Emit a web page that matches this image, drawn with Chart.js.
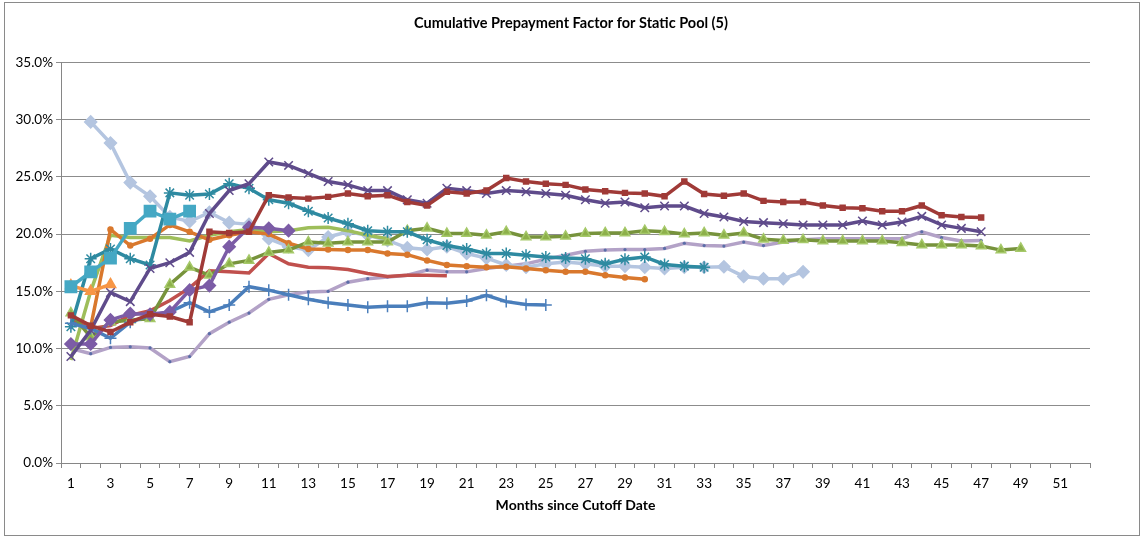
<!DOCTYPE html>
<html>
<head>
<meta charset="utf-8">
<script src="https://cdn.jsdelivr.net/npm/chart.js@4.4.1/dist/chart.umd.min.js"></script>
<style>
  html, body { margin: 0; padding: 0; background: #fff; }
  #wrap { position: relative; width: 1142px; height: 538px; }
  #frame { position: absolute; left: 4px; top: 2px; width: 1134px; height: 532px; border: 1px solid #8a8a8a; pointer-events: none; }
</style>
</head>
<body>
<div id="wrap">
  <canvas id="chart" width="1142" height="538"></canvas>
  <div id="frame"></div>
</div>
<script>
// months 1..52 on the category axis (odd ones labelled)
const months = Array.from({ length: 52 }, (_, i) => String(i + 1));
const yTicks = [0, 5, 10, 15, 20, 25, 30, 35];

// cumulative prepayment factor, % (one array per pool, month 1 first)
const bluePlus = [12.2, 11.75, 10.9, 12.3, 12.9, 13.2, 14.0, 13.2, 13.8, 15.4, 15.1, 14.7, 14.3, 14.0, 13.8,
  13.6, 13.7, 13.7, 14.0, 13.95, 14.15, 14.65, 14.1, 13.85, 13.8];
const darkRedSq = [12.9, 12.0, 11.45, 12.3, 13.0, 12.8, 12.3, 20.2, 20.1, 20.2, 23.4, 23.2, 23.1, 23.25, 23.55,
  23.3, 23.4, 22.8, 22.5, 23.7, 23.55, 23.8, 24.9, 24.6, 24.4, 24.3, 23.9, 23.75, 23.6, 23.55,
  23.3, 24.6, 23.5, 23.35, 23.55, 22.9, 22.8, 22.8, 22.5, 22.3, 22.25, 22.0, 22.0, 22.5, 21.65,
  21.5, 21.45];
const redLine = [12.5, 11.75, 12.0, 12.9, 13.3, 14.2, 15.3, 16.8, 16.7, 16.6, 18.3, 17.4, 17.1, 17.05, 16.9,
  16.55, 16.3, 16.4, 16.4, 16.35];
const greenTri = [13.1, 11.0, 12.3, 12.5, 12.6, 15.6, 17.1, 16.4, 17.4, 17.7, 18.4, 18.6, 19.3, 19.2, 19.3,
  19.3, 19.3, 20.3, 20.5, 20.05, 20.05, 19.9, 20.2, 19.75, 19.75, 19.8, 20.05, 20.1, 20.1, 20.3,
  20.2, 20.0, 20.1, 19.9, 20.1, 19.55, 19.45, 19.5, 19.4, 19.4, 19.4, 19.4, 19.25, 19.05, 19.05,
  19.05, 18.95, 18.6, 18.75];
const lightGreen = [9.0, 15.0, 19.9, 19.7, 19.7, 19.7, 19.4, 19.9, 20.2, 20.4, 20.2, 20.3, 20.55, 20.6, 20.3,
  19.9, 19.6];
const purpleX = [9.3, 11.6, 14.9, 14.1, 17.0, 17.5, 18.4, 21.8, 23.8, 24.4, 26.3, 26.0, 25.3, 24.6, 24.3,
  23.8, 23.8, 23.0, 22.7, 24.0, 23.8, 23.55, 23.8, 23.7, 23.55, 23.4, 23.0, 22.7, 22.8, 22.3,
  22.45, 22.45, 21.8, 21.5, 21.1, 21.0, 20.9, 20.8, 20.8, 20.8, 21.15, 20.8, 21.05, 21.55, 20.8,
  20.5, 20.2];
const purpleDia = [10.4, 10.4, 12.5, 13.05, 13.0, 13.2, 15.1, 15.5, 18.9, 20.6, 20.5, 20.3];
const lightPurple = [10.0, 9.55, 10.1, 10.15, 10.05, 8.85, 9.3, 11.3, 12.3, 13.1, 14.3, 14.7, 14.95, 15.0, 15.8,
  16.1, 16.25, 16.4, 16.85, 16.7, 16.7, 17.0, 17.2, 17.4, 17.8, 18.15, 18.5, 18.6, 18.65, 18.65,
  18.75, 19.2, 19.0, 18.95, 19.3, 19.0, 19.3, 19.5, 19.6, 19.6, 19.6, 19.6, 19.6, 20.2, 19.7,
  19.4, 19.45];
const tealStar = [11.9, 17.85, 18.7, 17.85, 17.3, 23.6, 23.4, 23.5, 24.4, 24.0, 23.0, 22.7, 22.0, 21.4, 20.9,
  20.3, 20.2, 20.2, 19.5, 19.0, 18.7, 18.3, 18.3, 18.15, 18.0, 17.9, 17.85, 17.4, 17.8, 18.0,
  17.35, 17.2, 17.1];
const tealSq = [15.4, 16.7, 17.9, 20.5, 22.0, 21.3, 22.0];
const orangeCirc = [null, 11.9, 20.4, 19.0, 19.6, 20.8, 20.2, 19.5, 19.9, 20.2, 20.0, 19.2, 18.7, 18.65, 18.6,
  18.6, 18.3, 18.2, 17.7, 17.3, 17.2, 17.1, 17.15, 17.0, 16.85, 16.7, 16.7, 16.4, 16.2, 16.05];
const orangeTri = [15.5, 15.0, 15.6];
const lightBlueDia = [null, 29.8, 27.95, 24.5, 23.3, 21.5, 21.1, 21.9, 21.0, 20.85, 19.6, 18.9, 18.6, 19.75, 20.2,
  19.9, 19.45, 18.8, 18.65, 18.9, 18.3, 17.9, 17.3, 17.1, 17.4, 17.55, 17.4, 17.2, 17.2, 17.1,
  17.0, 17.1, 17.1, 17.15, 16.3, 16.1, 16.1, 16.7];

const FONT = 'Lato, "Liberation Sans", sans-serif';

function series(label, data, color, style, radius, extra) {
  return Object.assign({
    label, data,
    borderColor: color,
    backgroundColor: color,
    pointBackgroundColor: color,
    pointBorderColor: color,
    borderWidth: 3.5,
    pointStyle: style,
    pointRadius: radius,
    pointBorderWidth: 1.5,
    tension: 0,
    spanGaps: false,
    fill: false
  }, extra || {});
}

// first dataset is drawn on top
const datasets = [
  series('Pool A', darkRedSq, '#A03A37', 'rect', 3.5),
  series('Pool B', purpleX, '#5F4B8B', 'crossRot', 6),
  series('Pool C', tealSq, '#45A8C4', 'rect', 8),
  series('Pool D', orangeTri, '#F79646', 'triangle', 6),
  series('Pool E', purpleDia, '#7C5CA6', 'rectRot', 6),
  series('Pool F', bluePlus, '#4A7EBB', 'cross', 6),
  series('Pool G', tealStar, '#2E8AA1', 'star', 6),
  series('Pool H', greenTri, '#77933C', 'triangle', 5.5, { pointBackgroundColor: '#8DB04A', pointBorderColor: '#A6C96A' }),
  series('Pool I', orangeCirc, '#D9782D', 'circle', 2.5),
  series('Pool J', redLine, '#C0504D', 'circle', 0),
  series('Pool K', lightGreen, '#9EBE5A', 'circle', 0),
  series('Pool L', lightBlueDia, '#B4C5E0', 'rectRot', 6),
  series('Pool M', lightPurple, '#B3A2C7', 'circle', 1.6, { pointBackgroundColor: '#5A6EA8', pointBorderColor: '#5A6EA8', pointBorderWidth: 0 })
];

new Chart(document.getElementById('chart'), {
  type: 'line',
  data: { labels: months, datasets },
  options: {
    responsive: false,
    animation: false,
    layout: { padding: { left: 0, right: 0, top: 0, bottom: 0 } },
    plugins: {
      legend: { display: false },
      tooltip: { enabled: false },
      title: {
        display: true,
        text: 'Cumulative Prepayment Factor for Static Pool (5)',
        color: '#000',
        font: { family: FONT, size: 14.5, weight: 'bold' },
        padding: { top: 15, bottom: 30 }
      }
    },
    scales: {
      x: {
        offset: true,
        afterFit: s => { s.height = 75; },
        grid: { display: true, offset: true, drawOnChartArea: false, drawTicks: true, tickLength: 5, color: '#868686' },
        border: { color: '#868686', width: 1 },
        ticks: {
          autoSkip: false, maxRotation: 0, minRotation: 0, padding: 8,
          color: '#000', font: { family: FONT, size: 13.5 },
          callback: (v, i) => (i % 2 === 0 ? months[i] : '')
        },
        title: {
          display: true,
          text: 'Months since Cutoff Date',
          color: '#000',
          font: { family: FONT, size: 14, weight: 'bold' },
          padding: { top: 0, bottom: 24 }
        }
      },
      y: {
        min: yTicks[0],
        max: yTicks[yTicks.length - 1],
        afterFit: s => { s.width = 61; },
        afterBuildTicks: s => { s.ticks = yTicks.map(v => ({ value: v })); },
        grid: { color: '#8c8c8c', lineWidth: 1, tickLength: 5 },
        border: { color: '#868686', width: 1 },
        ticks: {
          padding: 3, color: '#000', font: { family: FONT, size: 13.5 },
          callback: v => v.toFixed(1) + '%'
        }
      },
      // empty right-hand margin so the plot ends where the reference's does
      yRight: {
        position: 'right',
        display: true,
        afterFit: s => { s.width = 52; },
        grid: { display: false, drawOnChartArea: false },
        border: { display: false },
        ticks: { display: false }
      }
    }
  }
});
</script>
</body>
</html>
